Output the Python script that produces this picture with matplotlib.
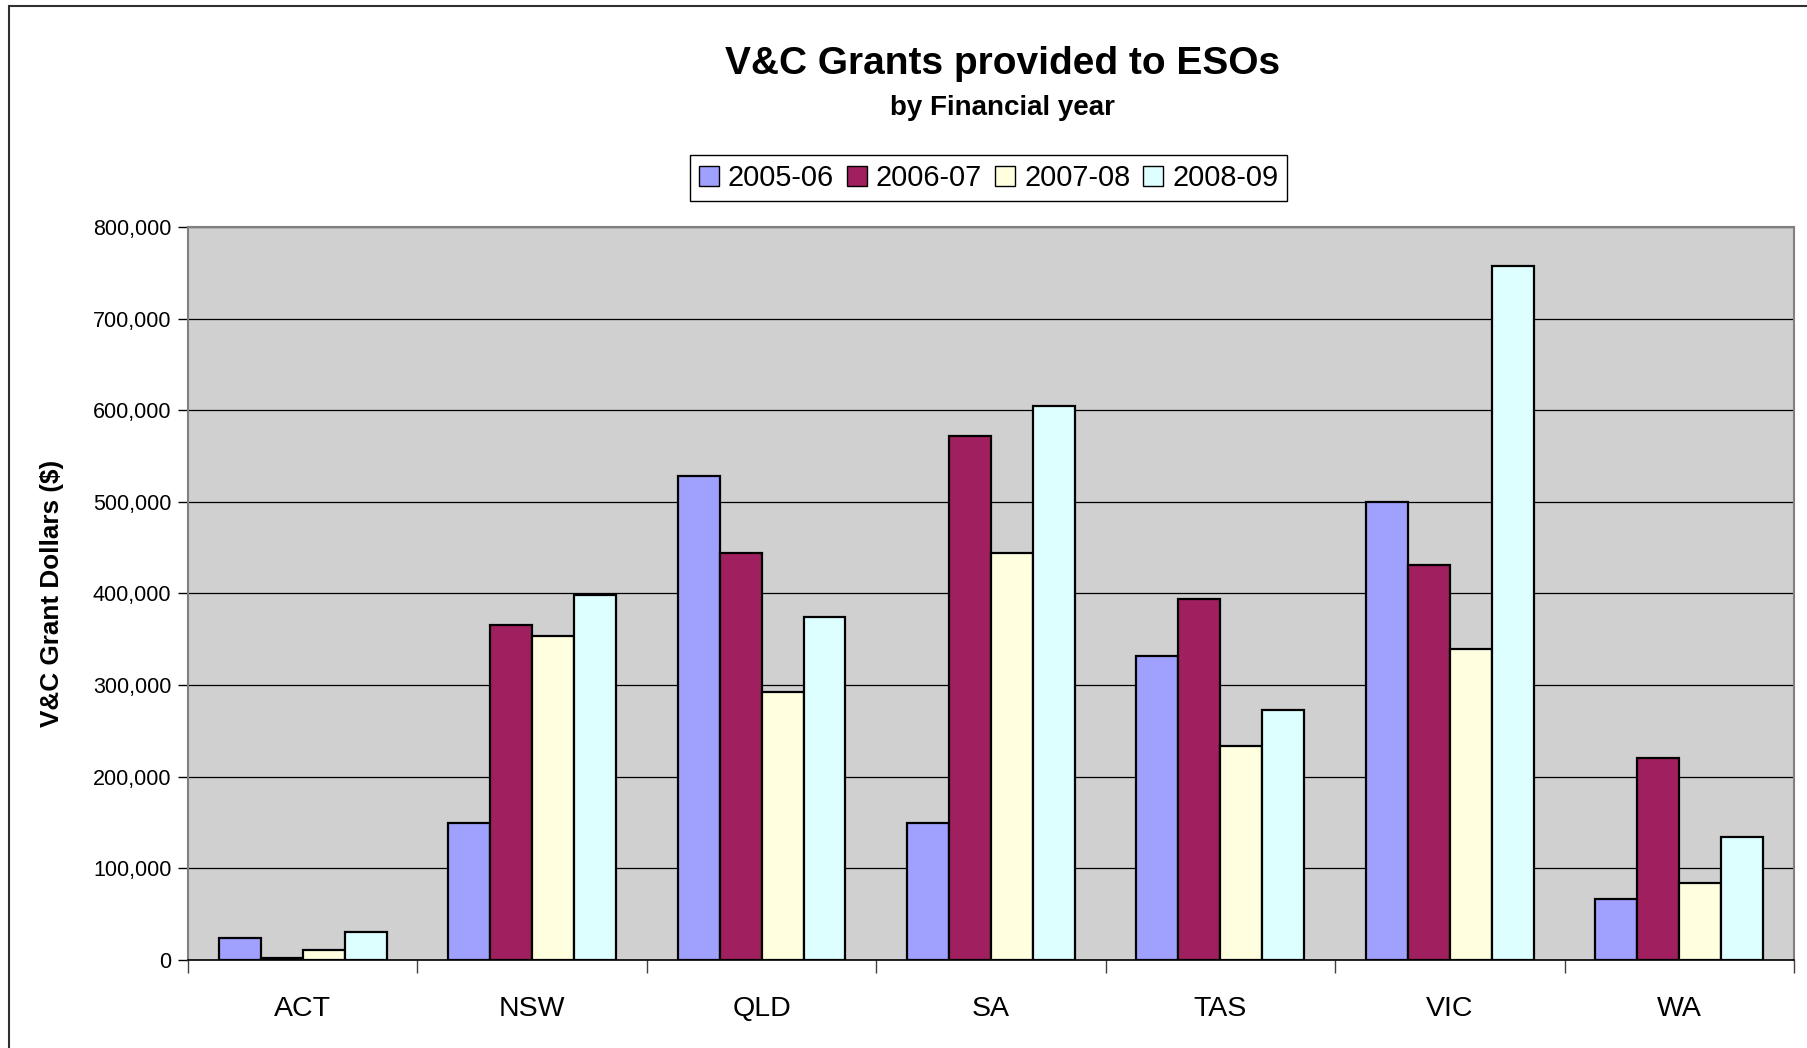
import numpy as np
import matplotlib.pyplot as plt
from matplotlib.patches import Rectangle
from matplotlib.ticker import FuncFormatter, FixedLocator

plt.rcParams['font.family'] = ['Liberation Sans', 'DejaVu Sans']

states = ['ACT', 'NSW', 'QLD', 'SA', 'TAS', 'VIC', 'WA']
years = ['2005-06', '2006-07', '2007-08', '2008-09']
grants_0506 = [24000, 150000, 528000, 150000, 332000, 500000, 66000]
grants_0607 = [2500, 366000, 444000, 572000, 394000, 431000, 220000]
grants_0708 = [11000, 354000, 293000, 444000, 233000, 339000, 84000]
grants_0809 = [31000, 398000, 374000, 605000, 273000, 757000, 134000]
colours = ['#A0A0FF', '#A01F5E', '#FFFFE0', '#DDFFFF']

series = [grants_0506, grants_0607, grants_0708, grants_0809]

fig = plt.figure(figsize=(18.07, 10.48), dpi=100)
ax = fig.add_axes([0.1040, 0.0840, 0.8888, 0.6994])
ax.set_facecolor('#D0D0D0')

x = np.arange(len(states))
bw = 0.183
for i, (vals, col, lab) in enumerate(zip(series, colours, years)):
    ax.bar(x + (i - 1.5) * bw, vals, width=bw, color=col, edgecolor='black',
           linewidth=1.6, label=lab, zorder=3)

ax.set_xlim(-0.5, len(states) - 0.5)
ax.set_ylim(0, 800000)
ax.set_yticks(np.arange(0, 800001, 100000))
ax.yaxis.set_major_formatter(FuncFormatter(lambda v, p: f'{int(v):,}'))
ax.yaxis.grid(True, color='black', linewidth=0.9, zorder=1)
ax.set_axisbelow(True)

ax.set_xticks(x)
ax.set_xticklabels(states, fontsize=20.5)
ax.xaxis.set_minor_locator(FixedLocator(np.arange(-0.5, len(states), 1.0)))
ax.tick_params(axis='x', which='major', length=0, pad=26)
ax.tick_params(axis='x', which='minor', length=9, width=1.0, color='#404040')
ax.tick_params(axis='y', length=7, width=1.0, pad=5, labelsize=15.5)

for s in ['top', 'right', 'left']:
    ax.spines[s].set_color('#808080')
    ax.spines[s].set_linewidth(1.5)
ax.spines['bottom'].set_color('black')
ax.spines['bottom'].set_linewidth(1.2)

ax.set_ylabel('V&C Grant Dollars ($)', fontsize=18.8, fontweight='bold', labelpad=21)

fig.text(0.555, 0.9387, 'V&C Grants provided to ESOs', ha='center', va='center',
         fontsize=28, fontweight='bold')
fig.text(0.555, 0.8965, 'by Financial year', ha='center', va='center',
         fontsize=20, fontweight='bold')

leg = ax.legend(loc='center', bbox_to_anchor=(0.4985, 1.067), ncol=4, fontsize=20.8,
                frameon=True, fancybox=False, edgecolor='black', framealpha=1,
                handlelength=0.7, handleheight=0.7, handletextpad=0.3,
                columnspacing=0.45, borderpad=0.3, borderaxespad=0)
leg.get_frame().set_linewidth(1.0)
for h in leg.legend_handles:
    h.set_linewidth(1.0)

# outer chart border
fig.patches.append(Rectangle((9 / 1807, -0.05), 1.05, 1.05 - 6 / 1048,
                             transform=fig.transFigure, fill=False,
                             edgecolor='#303030', linewidth=1.5))

fig.savefig('out.png', dpi=100)
